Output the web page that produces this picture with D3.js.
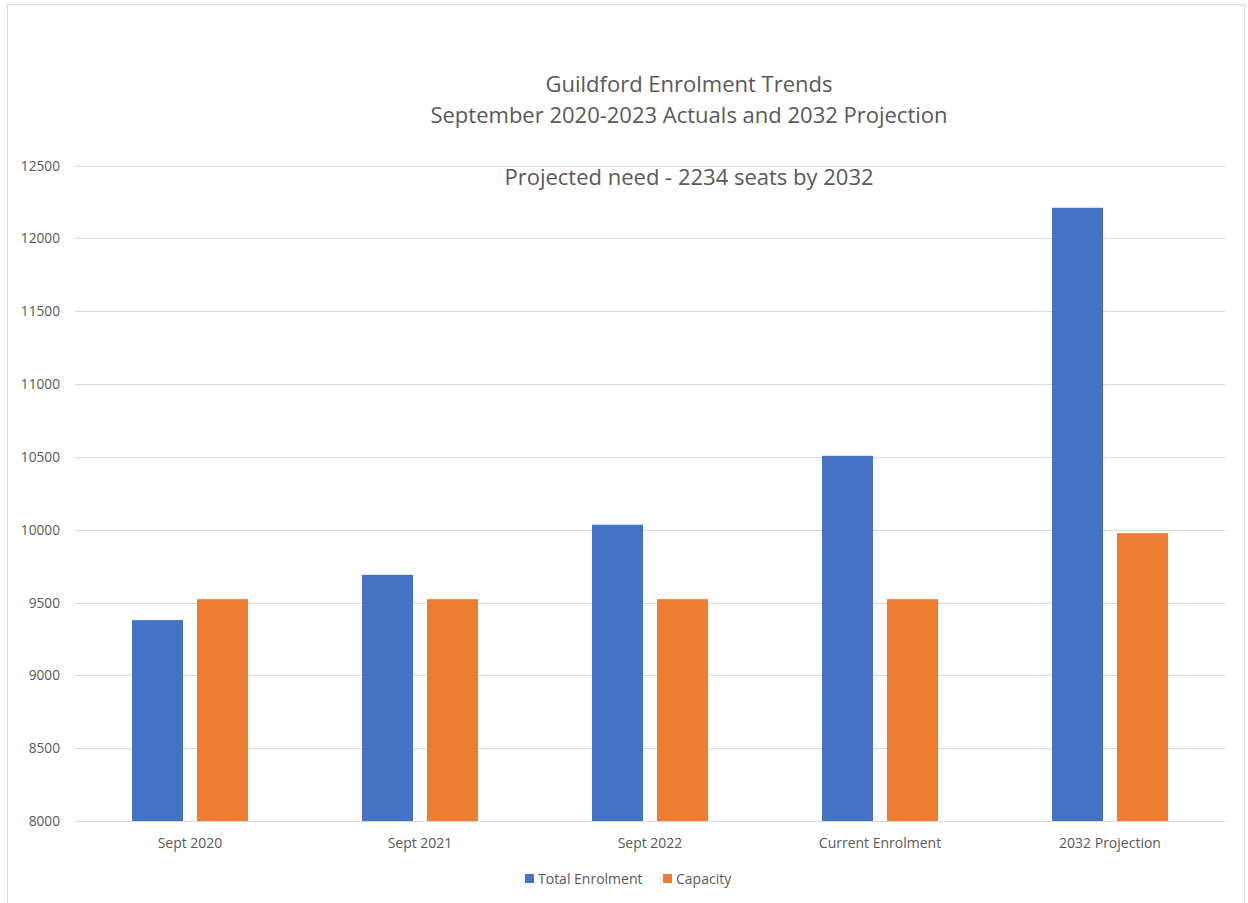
<!DOCTYPE html>
<html><head><meta charset="utf-8">
<script src="https://cdn.jsdelivr.net/npm/d3@7"></script>
<style>body{margin:0;background:#fff;font-family:"Open Sans",sans-serif;}</style>
</head><body><svg id="c" width="1248" height="903"></svg>
<script>
const categories = ["Sept 2020","Sept 2021","Sept 2022","Current Enrolment","2032 Projection"];
const totalEnrolment = [9379, 9690, 10034, 10507, 12210];
const capacity = [9523, 9523, 9523, 9523, 9976];
const seriesNames = ["Total Enrolment","Capacity"];
const colors = ["#4472C4","#ED7D31"];
const yTicks = [8000,8500,9000,9500,10000,10500,11000,11500,12000,12500];
const titleLines = ["Guildford Enrolment Trends","September 2020-2023 Actuals and 2032 Projection"];
const subtitle = "Projected need - 2234 seats by 2032";

const svg = d3.select("#c");
const font = "'Open Sans', sans-serif";
const txt = "#595959";
svg.append("rect").attr("x",7.5).attr("y",4.5).attr("width",1237).attr("height",910)
  .attr("fill","#fff").attr("stroke","#d9d9d9");

const m = {l:75, r:1225, t:165.5, b:821};
const x = d3.scaleBand().domain(categories).range([m.l,m.r]).paddingInner(0).paddingOuter(0);
const y = d3.scaleLinear().domain([8000,12500]).range([m.b,m.t]);

svg.append("g").selectAll("line").data(yTicks).join("line")
  .attr("x1",m.l).attr("x2",m.r).attr("y1",d=>Math.round(y(d))+0.5).attr("y2",d=>Math.round(y(d))+0.5)
  .attr("stroke","#d9d9d9").attr("stroke-width",1);

svg.append("g").selectAll("text").data(yTicks).join("text")
  .attr("x",60).attr("y",d=>y(d)+5).attr("text-anchor","end")
  .attr("font-family",font).attr("font-size",13.7).attr("fill",txt).text(d=>d);

const barW = 51, gap = 14;
const groupW = barW*2+gap;
const data = categories.map((c,i)=>({c, v:[totalEnrolment[i], capacity[i]]}));
const g = svg.append("g");
data.forEach(d=>{
  const x0 = x(d.c) + (x.bandwidth()-groupW)/2;
  d.v.forEach((v,j)=>{
    g.append("rect").attr("x",x0 + j*(barW+gap)).attr("y",y(v))
      .attr("width",barW).attr("height",y(8000)-y(v)).attr("fill",colors[j]);
  });
});
svg.append("line").attr("x1",m.l).attr("x2",m.r).attr("y1",Math.round(y(8000))+0.5).attr("y2",Math.round(y(8000))+0.5)
  .attr("stroke","#d9d9d9");

svg.append("g").selectAll("text").data(categories).join("text")
  .attr("x",d=>x(d)+x.bandwidth()/2).attr("y",848).attr("text-anchor","middle")
  .attr("font-family",font).attr("font-size",14).attr("fill",txt).text(d=>d);

svg.append("text").attr("x",689).attr("y",91.5).attr("text-anchor","middle")
  .attr("font-family",font).attr("font-size",22).attr("fill",txt).text(titleLines[0]);
svg.append("text").attr("x",689).attr("y",122.5).attr("text-anchor","middle")
  .attr("font-family",font).attr("font-size",22).attr("fill",txt).text(titleLines[1]);
svg.append("text").attr("x",689).attr("y",185).attr("text-anchor","middle")
  .attr("font-family",font).attr("font-size",22).attr("fill",txt).text(subtitle);

const lg = svg.append("g");
const lx = [525, 663];
seriesNames.forEach((n,i)=>{
  lg.append("rect").attr("x",lx[i]).attr("y",874).attr("width",9).attr("height",9).attr("fill",colors[i]);
  lg.append("text").attr("x",lx[i]+13).attr("y",884).attr("font-family",font).attr("font-size",14)
    .attr("fill",txt).text(n);
});
</script></body></html>
